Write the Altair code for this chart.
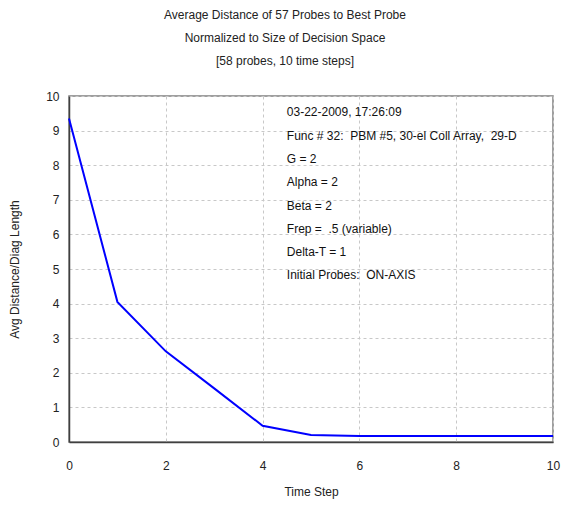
import altair as alt
import pandas as pd

time_step = [0, 1, 2, 3, 4, 5, 6, 7, 8, 9, 10]
avg_dist = [9.35, 4.05, 2.62, 1.55, 0.47, 0.2, 0.17, 0.17, 0.17, 0.17, 0.17]

NB = "\u00a0"
notes = [
    "03-22-2009, 17:26:09",
    f"Func # 32: {NB}PBM #5, 30-el Coll Array, {NB}29-D",
    "G = 2",
    "Alpha = 2",
    "Beta = 2",
    f"Frep = {NB}.5 (variable)",
    "Delta-T = 1",
    f"Initial Probes: {NB}ON-AXIS",
]
note_y = [9.54, 8.84, 8.18, 7.51, 6.82, 6.16, 5.49, 4.83]

FONT = "Liberation Sans"

df = pd.DataFrame({"t": time_step, "d": avg_dist})
notes_df = pd.DataFrame({"txt": notes, "y": note_y, "x": [4.5] * len(notes)})

x_scale = alt.Scale(domain=[0, 10], nice=False)
y_scale = alt.Scale(domain=[0, 10], nice=False)

common = dict(grid=True, gridDash=[3, 3], gridColor="#c8c8c8", tickSize=0,
              domainColor="#404040", domainWidth=1.5, labelOverlap=False,
              labelFlush=False,
              labelFont=FONT, titleFont=FONT, labelFontSize=12,
              titleFontSize=12, titleFontWeight="normal",
              labelColor="#222", titleColor="#222")
x_axis = alt.Axis(title="Time Step", values=[0, 2, 4, 6, 8, 10], format="d",
                  labelPadding=18, titlePadding=15, **common)
y_axis = alt.Axis(title="Avg Distance/Diag Length", values=list(range(0, 11)),
                  format="d", labelPadding=10, titlePadding=24, **common)

line = alt.Chart(df).mark_line(color="#0000FF", strokeWidth=2).encode(
    x=alt.X("t:Q", scale=x_scale, axis=x_axis),
    y=alt.Y("d:Q", scale=y_scale, axis=y_axis),
)

text = alt.Chart(notes_df).mark_text(align="left", baseline="middle", font=FONT,
                                     fontSize=12, color="#111").encode(
    x=alt.X("x:Q", scale=x_scale, axis=x_axis),
    y=alt.Y("y:Q", scale=y_scale, axis=y_axis),
    text="txt:N",
)

chart = (line + text).properties(
    width=484,
    height=346,
    padding={"left": 61, "top": 88, "right": 8, "bottom": 60},
    autosize=alt.AutoSizeParams(type="none"),
    title=alt.Title(
        ["Average Distance of 57 Probes to Best Probe",
         "Normalized to Size of Decision Space",
         "[58 probes, 10 time steps]"],
        font=FONT, fontSize=12, fontWeight="normal", color="#222",
        lineHeight=23, anchor="middle", dx=-26, offset=22,
    ),
).configure_view(stroke="#808080", strokeWidth=1.5)

chart.save("out.html", embed_options={"renderer": "svg", "actions": False})
